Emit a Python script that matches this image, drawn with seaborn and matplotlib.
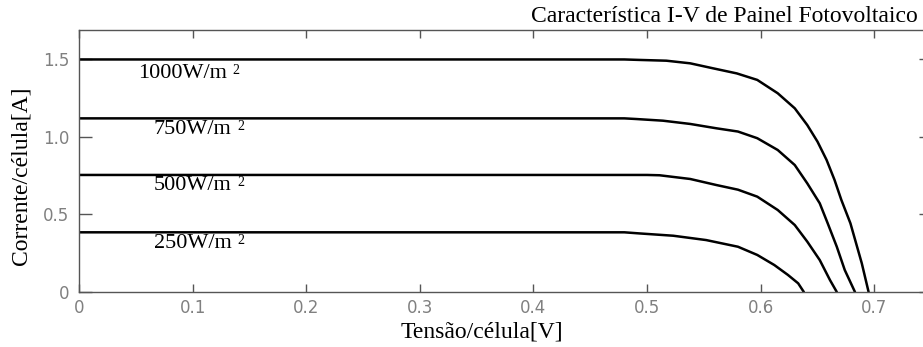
import matplotlib
matplotlib.use("Agg")
import matplotlib.pyplot as plt
import seaborn as sns
import pandas as pd
from matplotlib import font_manager

# Data
V_1000 = [0.0, 0.48, 0.493, 0.517, 0.538, 0.558, 0.579, 0.597, 0.615, 0.630, 0.641, 0.650,
          0.658, 0.665, 0.671, 0.679, 0.684, 0.689, 0.695]
I_1000 = [1.50, 1.50, 1.497, 1.492, 1.475, 1.443, 1.41, 1.368, 1.282, 1.185, 1.077, 0.970,
          0.852, 0.723, 0.594, 0.443, 0.314, 0.185, 0.0]
V_750 = [0.0, 0.48, 0.490, 0.514, 0.538, 0.561, 0.580, 0.597, 0.615, 0.630, 0.641, 0.652,
         0.659, 0.667, 0.674, 0.683]
I_750 = [1.12, 1.12, 1.116, 1.105, 1.084, 1.056, 1.035, 0.992, 0.916, 0.819, 0.701, 0.572,
         0.443, 0.292, 0.142, 0.0]
V_500 = [0.0, 0.50, 0.511, 0.538, 0.561, 0.580, 0.597, 0.615, 0.630, 0.641, 0.652, 0.661, 0.667]
I_500 = [0.755, 0.755, 0.753, 0.729, 0.690, 0.660, 0.615, 0.529, 0.432, 0.325, 0.206, 0.077, 0.0]
V_250 = [0.0, 0.48, 0.493, 0.523, 0.552, 0.580, 0.597, 0.612, 0.624, 0.633, 0.638]
I_250 = [0.385, 0.385, 0.378, 0.363, 0.335, 0.292, 0.239, 0.174, 0.110, 0.056, 0.0]

series_names = ["1000", "750", "500", "250"]
labels = ["1000W/m", "750W/m", "500W/m", "250W/m"]
label_pos = [(0.052, 1.41), (0.066, 1.045), (0.066, 0.684), (0.066, 0.316)]
x_ticks = [0, 0.1, 0.2, 0.3, 0.4, 0.5, 0.6, 0.7]
x_ticklabels = ["0", "0.1", "0.2", "0.3", "0.4", "0.5", "0.6", "0.7"]
y_ticks = [0, 0.5, 1.0, 1.5]
y_ticklabels = ["0", "0.5", "1.0", "1.5"]

frames = []
for name, v, i in zip(series_names, [V_1000, V_750, V_500, V_250], [I_1000, I_750, I_500, I_250]):
    frames.append(pd.DataFrame({"V": v, "I": i, "G": name}))
df = pd.concat(frames, ignore_index=True)

sns.set_style("ticks")
plt.rcParams["font.family"] = ["DejaVu Sans"]

installed = {f.name for f in font_manager.fontManager.ttflist}
tick_family = "Liberation Sans Narrow" if "Liberation Sans Narrow" in installed else "DejaVu Sans"
tick_size = 14 if tick_family == "Liberation Sans Narrow" else 12

fig = plt.figure(figsize=(9.23, 3.47), dpi=100)
ax = fig.add_axes([79 / 923, 55 / 347, 1 - 79 / 923 + 0.01, (292 - 30) / 347])

sns.lineplot(data=df, x="V", y="I", hue="G", palette=["black"] * 4, legend=False,
             sort=False, estimator=None, linewidth=1.8, ax=ax)

ax.set_xlim(0, 0.751)
ax.set_ylim(0, 1.69)
ax.set_xticks(x_ticks)
ax.set_xticklabels(x_ticklabels, family=tick_family)
ax.set_yticks(y_ticks)
ax.set_yticklabels(y_ticklabels, family=tick_family)

for s in ["left", "top", "bottom"]:
    ax.spines[s].set_visible(True)
    ax.spines[s].set_color("#555555")
    ax.spines[s].set_linewidth(1.0)
ax.spines["right"].set_visible(False)

ax.tick_params(axis="x", direction="in", length=6, width=1, color="#555555",
               top=True, bottom=True, labelsize=tick_size, labelcolor="#808080", pad=5)
ax.tick_params(axis="y", direction="in", length=9.5, width=1, color="#555555",
               left=True, right=True, labelsize=tick_size, labelcolor="#808080", pad=7)

serif = ["Liberation Serif", "DejaVu Serif"]
ax.set_xlabel("Tensão/célula[V]", fontsize=17, family=serif, color="black", va="center")
ax.set_ylabel("Corrente/célula[A]", fontsize=17, family=serif, color="black", va="center")
ax.xaxis.set_label_coords((478 - 79) / 844, -(332 - 292) / 262)
ax.yaxis.set_label_coords(-(79 - 22) / 844, (292 - 176) / 262)

for lab, (x, y) in zip(labels, label_pos):
    t = ax.text(x, y, lab, fontsize=16, family=serif, color="black", va="center", ha="left")
    ax.annotate("2", xy=(1, 1), xycoords=t, xytext=(4, 0), textcoords="offset points",
                fontsize=10, family=serif, color="black", ha="left", va="top")

fig.text(918 / 923, 1 - 17 / 347, "Característica I-V de Painel Fotovoltaico", fontsize=17,
         family=serif, ha="right", va="center", color="black")

fig.savefig("out.png", dpi=100)
